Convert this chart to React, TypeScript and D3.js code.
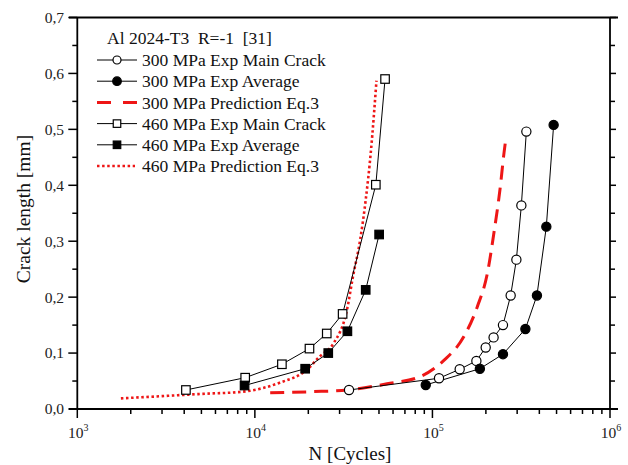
import React from 'react';
import * as d3 from 'd3';

// ---- data ----
const n300Main = [33900, 108900, 142400, 176800, 199500, 221000, 249600, 275800, 297000, 316800, 338000];
const a300Main = [0.034, 0.055, 0.071, 0.086, 0.110, 0.128, 0.150, 0.203, 0.267, 0.364, 0.496];

const n300Avg = [91700, 185000, 249600, 333800, 387700, 438000, 481500];
const a300Avg = [0.043, 0.072, 0.098, 0.143, 0.203, 0.326, 0.508];

const n300Pred = [12200, 21300, 33000, 55500, 85500, 116000, 150000, 179000, 204000, 222000, 240000, 253000, 260000];
const a300Pred = [0.029, 0.031, 0.034, 0.045, 0.058, 0.087, 0.129, 0.183, 0.243, 0.315, 0.392, 0.458, 0.487];

const n460Main = [4090, 8820, 14200, 20300, 25400, 31200, 48000, 54100];
const a460Main = [0.034, 0.056, 0.080, 0.108, 0.135, 0.170, 0.401, 0.590];

const n460Avg = [8750, 19200, 25900, 33200, 42100, 50100];
const a460Avg = [0.042, 0.072, 0.100, 0.139, 0.213, 0.312];

const n460Pred = [1760, 3000, 5000, 8600, 13800, 19600, 23200, 27700, 33000, 35700, 39200, 42100, 45000, 48400];
const a460Pred = [0.019, 0.023, 0.027, 0.031, 0.047, 0.070, 0.094, 0.117, 0.177, 0.237, 0.303, 0.374, 0.46, 0.587];

const yTicks = [0, 0.1, 0.2, 0.3, 0.4, 0.5, 0.6, 0.7];
const xDecades = [3, 4, 5, 6];

const legendTitle = 'Al 2024-T3  R=-1  [31]';
const legendLabels = [
  '300 MPa Exp Main Crack',
  '300 MPa Exp Average',
  '300 MPa Prediction Eq.3',
  '460 MPa Exp Main Crack',
  '460 MPa Exp Average',
  '460 MPa Prediction Eq.3',
];

const RED = '#ee1616';
const FONT = '"Liberation Serif", "Times New Roman", serif';

export default function App() {
  const W = 628, H = 465;
  const x = d3.scaleLog().domain([1e3, 1e6]).range([77.3, 610]);
  const y = d3.scaleLinear().domain([0, 0.7]).range([409, 17.5]);

  const zip = (ns: number[], as: number[]) => ns.map((n, i) => [n, as[i]] as [number, number]);
  const straight = d3.line<[number, number]>().x(d => x(d[0])).y(d => y(d[1]));
  const smooth = d3.line<[number, number]>().x(d => x(d[0])).y(d => y(d[1])).curve(d3.curveMonotoneX);

  const minorY = d3.range(0, 0.7001, 0.05);
  const minorX: number[] = [];
  for (let e = 3; e < 6; e++) for (let k = 2; k <= 9; k++) minorX.push(k * Math.pow(10, e));

  const x0 = x.range()[0], x1 = x.range()[1];
  const y0 = y.range()[0], y1 = y.range()[1];

  const circle = (cx: number, cy: number, filled: boolean, key: string, r = 4.6) => (
    <circle key={key} cx={cx} cy={cy} r={r} fill={filled ? '#000' : '#fff'} stroke="#000" strokeWidth={1.2} />
  );
  const square = (cx: number, cy: number, filled: boolean, key: string, s = 8.5) => (
    <rect key={key} x={cx - s / 2} y={cy - s / 2} width={s} height={s} fill={filled ? '#000' : '#fff'} stroke="#000" strokeWidth={1.2} />
  );

  const legY = (i: number) => 60 + i * 21.2;

  return (
    <div style={{ position: 'fixed', left: 0, top: 0 }}>
      <svg width={W} height={H} style={{ display: 'block', background: '#fff' }} fontFamily={FONT}>
        <rect width={W} height={H} fill="#fff" />

        {/* curves */}
        <path d={smooth(zip(n460Pred, a460Pred)) || ''} fill="none" stroke={RED} strokeWidth={2.6} strokeDasharray="2.5,2.6" />
        <path d={smooth(zip(n300Pred, a300Pred)) || ''} fill="none" stroke={RED} strokeWidth={3} strokeDasharray="14,8" />

        <path d={straight(zip(n460Main, a460Main)) || ''} fill="none" stroke="#000" strokeWidth={1} />
        <path d={straight(zip(n460Avg, a460Avg)) || ''} fill="none" stroke="#000" strokeWidth={1} />
        <path d={straight(zip(n300Main, a300Main)) || ''} fill="none" stroke="#000" strokeWidth={1} />
        <path d={straight(zip(n300Avg, a300Avg)) || ''} fill="none" stroke="#000" strokeWidth={1} />

        {n460Main.map((n, i) => square(x(n), y(a460Main[i]), false, 'sm' + i))}
        {n460Avg.map((n, i) => square(x(n), y(a460Avg[i]), true, 'sa' + i))}
        {n300Main.map((n, i) => circle(x(n), y(a300Main[i]), false, 'cm' + i))}
        {n300Avg.map((n, i) => circle(x(n), y(a300Avg[i]), true, 'ca' + i))}

        {/* frame */}
        <g stroke="#000" strokeWidth={1.8} fill="none">
          <line x1={69} x2={618} y1={y0} y2={y0} />
          <line x1={69} x2={618} y1={y1} y2={y1} />
          <line x1={x0} x2={x0} y1={y1} y2={y0} />
          <line x1={x1} x2={x1} y1={y1} y2={y0} />
        </g>

        {/* ticks */}
        <g stroke="#000" strokeWidth={1.5}>
          {minorY.map((v, i) => {
            const major = i % 2 === 0;
            return (
              <g key={'yt' + i}>
                <line x1={x0} x2={x0 - (major ? 9 : 5)} y1={y(v)} y2={y(v)} />
                <line x1={x1} x2={x1 + (major ? 6 : 5)} y1={y(v)} y2={y(v)} />
              </g>
            );
          })}
          {xDecades.map(e => (
            <line key={'xd' + e} x1={x(Math.pow(10, e))} x2={x(Math.pow(10, e))} y1={y0} y2={y0 + 9} />
          ))}
          {minorX.map((n, i) => (
            <line key={'xm' + i} x1={x(n)} x2={x(n)} y1={y0} y2={y0 + 5} />
          ))}
        </g>

        {/* y tick labels */}
        {yTicks.map(v => (
          <text key={'yl' + v} x={64} y={y(v)} dy="0.35em" textAnchor="end" fontSize={15.5} fill="#222">
            {d3.format('.1f')(v).replace('.', ',')}
          </text>
        ))}

        {/* x tick labels */}
        {xDecades.map(e => (
          <text key={'xl' + e} x={x(Math.pow(10, e)) + 1} y={438} textAnchor="middle" fontSize={15.5} fill="#222">
            10
            <tspan fontSize={10} dy={-7}>{e}</tspan>
          </text>
        ))}

        {/* axis titles */}
        <text x={350} y={460} textAnchor="middle" fontSize={19} fill="#111">N [Cycles]</text>
        <text transform={`translate(30,209) rotate(-90)`} textAnchor="middle" fontSize={19.5} fill="#111">Crack length [mm]</text>

        {/* legend */}
        <text x={107} y={44} fontSize={17.5} fill="#111" style={{ whiteSpace: 'pre' }}>{legendTitle}</text>
        {legendLabels.map((lab, i) => (
          <text key={'lg' + i} x={142} y={legY(i)} dy="0.35em" fontSize={17.5} fill="#111">{lab}</text>
        ))}
        {/* legend symbols */}
        <line x1={97} x2={137} y1={legY(0)} y2={legY(0)} stroke="#000" strokeWidth={1} />
        {circle(117, legY(0), false, 'lc0', 4)}
        <line x1={97} x2={137} y1={legY(1)} y2={legY(1)} stroke="#000" strokeWidth={1} />
        {circle(117, legY(1), true, 'lc1', 4.3)}
        <line x1={97} x2={137} y1={legY(2)} y2={legY(2)} stroke={RED} strokeWidth={3} strokeDasharray="14,12" />
        <line x1={97} x2={137} y1={legY(3)} y2={legY(3)} stroke="#000" strokeWidth={1} />
        {square(117, legY(3), false, 'ls3', 7.5)}
        <line x1={97} x2={137} y1={legY(4)} y2={legY(4)} stroke="#000" strokeWidth={1} />
        {square(117, legY(4), true, 'ls4', 7.5)}
        <line x1={97} x2={135} y1={legY(5)} y2={legY(5)} stroke={RED} strokeWidth={2.6} strokeDasharray="2.5,2.6" />
      </svg>
    </div>
  );
}
